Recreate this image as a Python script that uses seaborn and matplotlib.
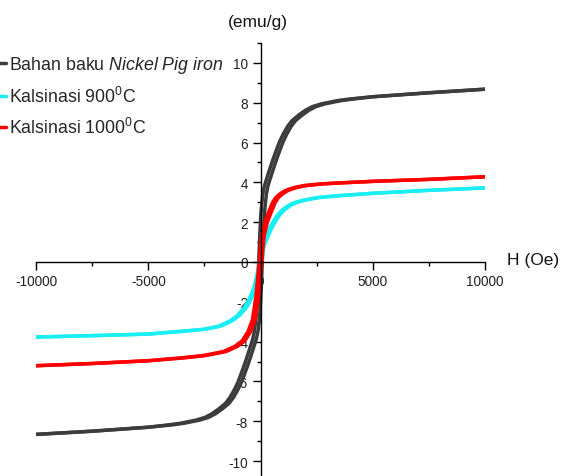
import matplotlib
matplotlib.use("Agg")
import matplotlib.pyplot as plt
from matplotlib.lines import Line2D
from matplotlib.ticker import MultipleLocator
import seaborn as sns
import pandas as pd

# Hysteresis loops (H in Oe, M in emu/g)
# "down" = branch from +10000 to -10000, "up" = branch back from -10000 to +10000
BLACK_DOWN_H = [10000, 7500, 5000, 3920, 3400, 2700, 2300, 2000, 1700, 1400, 1200, 1000, 850, 700, 570,
                450, 350, 250, 170, 100, 20, -30, -80, -130, -180, -260, -330, -410, -510, -610, -730,
                -860, -1010, -1160, -1360, -1560, -1860, -2160, -2460, -2860, -3560, -4080, -5000, -7500, -10000]
BLACK_DOWN_M = [8.68, 8.5, 8.3, 8.18, 8.1, 7.94, 7.8, 7.62, 7.38, 7.1, 6.8, 6.4, 6.05, 5.6, 5.2,
                4.8, 4.45, 4.1, 3.8, 3.4, 2.5, 1.4, 0.0, -1.4, -2.5, -3.4, -3.8, -4.1, -4.45, -4.8, -5.2,
                -5.6, -6.05, -6.4, -6.8, -7.1, -7.38, -7.62, -7.8, -7.94, -8.1, -8.18, -8.3, -8.5, -8.66]
BLACK_UP_H = [-10000, -7500, -5000, -3920, -3400, -2700, -2300, -2000, -1700, -1400, -1200, -1000, -850, -700, -570,
              -450, -350, -250, -170, -100, -20, 30, 80, 130, 180, 260, 330, 410, 510, 610, 730,
              860, 1010, 1160, 1360, 1560, 1860, 2160, 2460, 2860, 3560, 4080, 5000, 7500, 10000]
BLACK_UP_M = [-8.66, -8.5, -8.3, -8.18, -8.1, -7.94, -7.8, -7.62, -7.38, -7.1, -6.8, -6.4, -6.05, -5.6, -5.2,
              -4.8, -4.45, -4.1, -3.8, -3.4, -2.5, -1.4, 0.0, 1.4, 2.5, 3.4, 3.8, 4.1, 4.45, 4.8, 5.2,
              5.6, 6.05, 6.4, 6.8, 7.1, 7.38, 7.62, 7.8, 7.94, 8.1, 8.18, 8.3, 8.5, 8.68]

CYAN_DOWN_H = [10000, 7500, 5000, 3450, 2550, 1950, 1550, 1250, 950, 750, 600, 400, 200, 50,
               -50, -150, -300, -500, -700, -850, -1050, -1350, -1850, -2550, -3550, -5000, -7500, -10000]
CYAN_DOWN_M = [3.72, 3.6, 3.45, 3.33, 3.24, 3.12, 3.0, 2.85, 2.6, 2.35, 2.1, 1.7, 1.2, 0.75,
               0.1, -0.6, -1.3, -1.85, -2.25, -2.45, -2.7, -2.95, -3.22, -3.38, -3.48, -3.62, -3.7, -3.77]
CYAN_UP_H = [-10000, -7500, -5000, -3450, -2450, -1750, -1250, -950, -750, -600, -400, -200, -50, 50,
             150, 300, 500, 700, 850, 1050, 1350, 1650, 2050, 2650, 3550, 5000, 7500, 10000]
CYAN_UP_M = [-3.77, -3.7, -3.62, -3.48, -3.38, -3.22, -2.95, -2.7, -2.45, -2.25, -1.85, -1.3, -0.6, 0.1,
             0.75, 1.2, 1.7, 2.1, 2.35, 2.6, 2.85, 3.0, 3.12, 3.24, 3.33, 3.45, 3.6, 3.72]

RED_DOWN_H = [10000, 7500, 5000, 3440, 2640, 1940, 1540, 1240, 1040, 840, 690, 540, 340, 190, 120,
              40, -10, -60, -110, -210, -360, -560, -810, -1160, -1660, -2560, -3560, -5000, -7500, -10000]
RED_DOWN_M = [4.28, 4.15, 4.05, 3.97, 3.92, 3.84, 3.75, 3.65, 3.55, 3.4, 3.25, 3.0, 2.45, 2.0, 1.7,
              1.3, 0.7, 0.0, -0.6, -1.8, -2.9, -3.5, -3.95, -4.25, -4.5, -4.7, -4.82, -4.96, -5.1, -5.21]
RED_UP_H = [-10000, -7500, -5000, -3440, -2440, -1540, -1040, -690, -440, -240, -90, 10, 60, 110, 160,
            240, 310, 460, 660, 810, 960, 1160, 1360, 1660, 2060, 2760, 3560, 5000, 7500, 10000]
RED_UP_M = [-5.21, -5.1, -4.96, -4.82, -4.7, -4.5, -4.25, -3.95, -3.5, -2.9, -1.8, -0.6, 0.0, 0.7, 1.3,
            1.7, 2.0, 2.45, 3.0, 3.25, 3.4, 3.55, 3.65, 3.75, 3.84, 3.92, 3.97, 4.05, 4.15, 4.28]

SAMPLES = ["Bahan baku", "Kalsinasi 900", "Kalsinasi 1000"]
LABELS = [r"Bahan baku $\mathit{Nickel\ Pig\ iron}$",
          r"Kalsinasi 900$^\mathregular{0}$C",
          r"Kalsinasi 1000$^\mathregular{0}$C"]
COLORS = ["#3c3c3c", "#19eef2", "#ff0000"]

X_TICKS = [-10000, -5000, 0, 5000, 10000]
Y_TICKS = [-10, -8, -6, -4, -2, 0, 2, 4, 6, 8, 10]

branches = [
    (SAMPLES[0], "down", BLACK_DOWN_H, BLACK_DOWN_M),
    (SAMPLES[0], "up", BLACK_UP_H, BLACK_UP_M),
    (SAMPLES[1], "down", CYAN_DOWN_H, CYAN_DOWN_M),
    (SAMPLES[1], "up", CYAN_UP_H, CYAN_UP_M),
    (SAMPLES[2], "down", RED_DOWN_H, RED_DOWN_M),
    (SAMPLES[2], "up", RED_UP_H, RED_UP_M),
]
rows = []
for s, b, hs, ms in branches:
    for h, m in zip(hs, ms):
        rows.append({"sample": s, "branch": s + b, "H": h, "M": m})
df = pd.DataFrame(rows)

sns.set_theme(style="white")
plt.rcParams["font.family"] = ["Liberation Sans", "DejaVu Sans"]
plt.rcParams["mathtext.fontset"] = "custom"
plt.rcParams["mathtext.rm"] = "Liberation Sans"
plt.rcParams["mathtext.it"] = "Liberation Sans:italic"

fig = plt.figure(figsize=(5.61, 4.77), dpi=100)
ax = fig.add_axes([36 / 561, 0.0, 449 / 561, 433 / 477])

sns.lineplot(data=df, x="H", y="M", hue="sample", units="branch", estimator=None, sort=False,
             palette=dict(zip(SAMPLES, COLORS)), linewidth=2.5, legend=False, ax=ax)

ax.set_xlim(-10000, 10000)
ax.set_ylim(-10.75, 11)
ax.set_xlabel("")
ax.set_ylabel("")
for side in ["top", "right"]:
    ax.spines[side].set_visible(False)
ax.spines["left"].set_position(("data", 0))
ax.spines["bottom"].set_position(("data", 0))
for side in ["left", "bottom"]:
    ax.spines[side].set_color("black")
    ax.spines[side].set_linewidth(1.0)

ax.set_xticks(X_TICKS)
ax.set_xticklabels([str(t) for t in X_TICKS])
ax.set_yticks(Y_TICKS)
ax.set_yticklabels([str(t) for t in Y_TICKS])
ax.xaxis.set_minor_locator(MultipleLocator(2500))
ax.yaxis.set_minor_locator(MultipleLocator(1))
ax.tick_params(which="major", direction="out", length=6, width=1, color="black",
               labelsize=9.8, labelcolor="#222222", pad=3, bottom=True, left=True)
ax.tick_params(which="minor", direction="out", length=3, width=1, color="black", bottom=True, left=True)

fig.text(258 / 561, 1 - 22 / 477, "(emu/g)", ha="center", va="center", fontsize=12.5, color="#111111")
fig.text(507 / 561, 1 - 261 / 477, "H (Oe)", ha="left", va="center", fontsize=12.5, color="#111111")

handles = [Line2D([0], [0], color=c, lw=2.5) for c in COLORS]
fig.legend(handles, LABELS, loc="upper left", bbox_to_anchor=(-0.009, 1 - 55 / 477),
           frameon=False, fontsize=12.8, handlelength=0.6, handletextpad=0.2,
           labelspacing=0.62, borderpad=0, borderaxespad=0)

fig.savefig("out.png", dpi=100)
